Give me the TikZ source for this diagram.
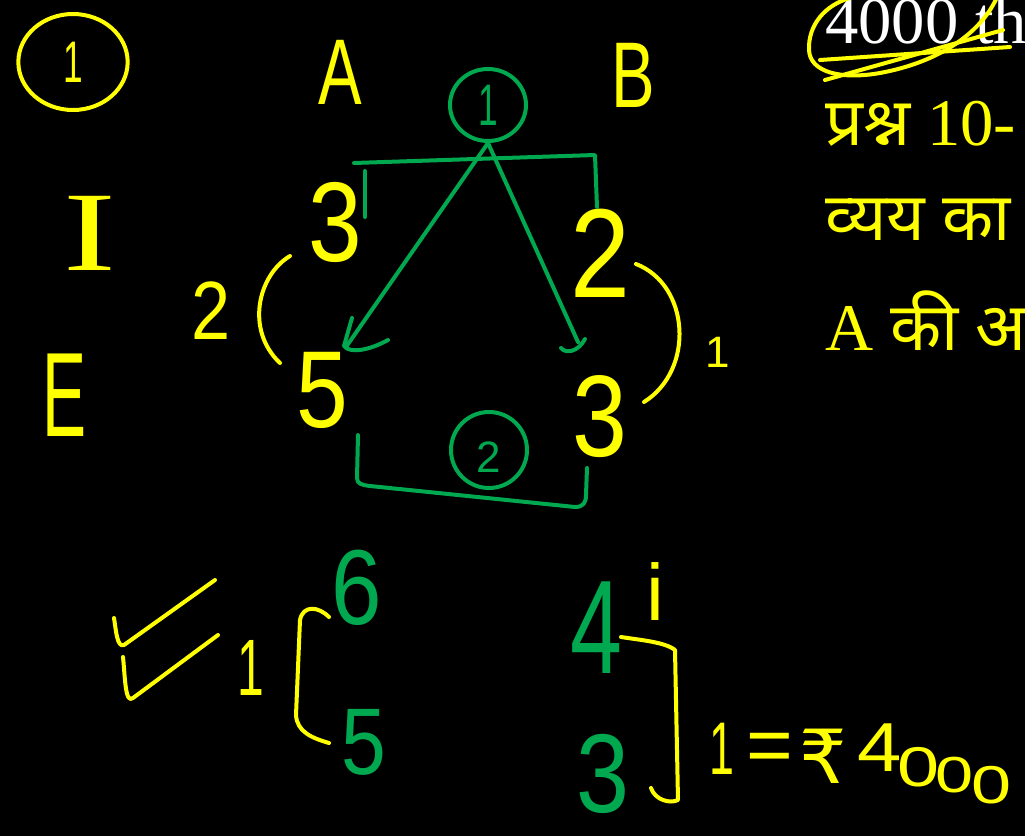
\documentclass[tikz,border=0pt]{standalone}
\usepackage{fontspec}
\setmainfont{Liberation Serif}
\newfontfamily\handfont{Liberation Sans}
\newfontfamily\devfont[Script=Devanagari]{Noto Sans}
\newfontfamily\symfont{DejaVu Sans}
\usetikzlibrary{shapes.geometric}
\definecolor{hy}{RGB}{255,255,0}
\definecolor{hg}{RGB}{0,168,80}
\newcommand\hsz[1]{\handfont\fontsize{#1pt}{#1pt}\selectfont}
\newcommand\ssz[1]{\fontsize{#1pt}{#1pt}\selectfont}
\begin{document}
\begin{tikzpicture}[x=0.75pt,y=-0.75pt,
  pen/.style={line width=3pt,line cap=round,line join=round},
  ypen/.style={pen,draw=hy},
  gpen/.style={pen,draw=hg},
  ytext/.style={inner sep=0pt,outer sep=0pt,text=hy},
  gtext/.style={inner sep=0pt,outer sep=0pt,text=hg},
  printed/.style={inner sep=0pt,anchor=base west,text=hy,font=\ssz{50}}]
\fill[black] (0,0) rectangle (1025,836);
\useasboundingbox (0,0) rectangle (1025,836);
\clip (0,0) rectangle (1025,836);

% printed text (top right)
\node[printed,text=white] (t0) at (825,43) {4000 th};
\node[printed] (t1) at (825,145) {{\devfont प्रश्न} 10-};
\node[printed] (t2) at (825,240) {\devfont व्यय का};
\node[printed] (t3) at (825,350) {A {\devfont की अ}};
\draw[ypen] (997,-3) .. controls (985,25) and (950,60) .. (880,73)
  .. controls (840,80) and (810,72) .. (809,50)
  .. controls (808,25) and (825,5) .. (850,-2);
\draw[ypen] (820,60) -- (1010,47);
\draw[ypen] (825,80) -- (1003,30);

% header row
\node[ellipse,draw=hy,line width=3pt,text=hy,font=\hsz{44},inner sep=0pt,
  minimum width=82pt,minimum height=72pt] (c1) at (73,62) {\scalebox{0.6}[1]{1}};
\node[ytext,font=\hsz{70}] (A) at (340,72) {\scalebox{0.7}[1]{A}};
\node[ytext,font=\hsz{70}] (B) at (633,75) {\scalebox{0.7}[1]{B}};
\node[ellipse,draw=hg,line width=3pt,text=hg,font=\hsz{44},inner sep=0pt,
  minimum width=57pt,minimum height=54pt] (g1) at (488,105) {\scalebox{0.6}[1]{1}};

% row labels
\node[ytext,font=\ssz{85}] (I) at (90,233) {\scalebox{1.4}[1]{I}};
\node[ytext,font=\hsz{90}] (E) at (65,395) {\scalebox{0.55}[1]{E}};

% ratios
\node[ytext,font=\hsz{85}] (a3) at (335,222) {\scalebox{0.85}[1]{3}};
\node[ytext,font=\hsz{95}] (b2) at (600,253) {\scalebox{0.85}[1]{2}};
\node[ytext,font=\hsz{82}] (a5) at (322,390) {\scalebox{0.85}[1]{5}};
\node[ytext,font=\hsz{87}] (b3) at (600,417) {\scalebox{0.85}[1]{3}};
\node[ytext,font=\hsz{62}] (l2) at (211,311) {\scalebox{0.85}[1]{2}};
\node[ytext,font=\hsz{33}] (r1) at (718,352) {1};
\draw[ypen] (290,256) .. controls (258,275) and (245,330) .. (280,363);
\draw[ypen] (636,264) .. controls (690,285) and (695,370) .. (644,402);

% green brackets and arrows
\draw[gpen] (354,163) -- (595,155) -- (597,207);
\draw[gpen] (365,171) -- (365,217);
\coordinate (h1) at (346,347);
\coordinate (h2) at (578,342);
\draw[gpen] (g1.south) -- (h1);
\draw[gpen] (352,318) -- (344,346) .. controls (350,354) and (370,350) .. (388,340);
\draw[gpen] (g1.south) -- (h2);
\draw[gpen] (561,348) .. controls (566,354) and (578,352) .. (585,339);
\draw[gpen] (358,435) -- (357,478) .. controls (357,484) and (362,485) .. (370,486)
  -- (575,507) .. controls (583,507) and (586,503) .. (586,495) -- (587,468);
\node[ellipse,draw=hg,line width=3pt,inner sep=0pt,
  minimum width=57pt,minimum height=57pt] (g2) at (489,450) {};
\node[gtext,font=\hsz{33}] (g2t) at (489,457) {2};

% lower working
\draw[ypen] (114,618) .. controls (116,630) and (117,648) .. (124,645) -- (215,580);
\draw[ypen] (123,657) .. controls (125,675) and (125,705) .. (133,698) -- (218,635);
\node[ytext,font=\hsz{60}] (v1) at (251,668) {\scalebox{0.6}[1]{1}};
\draw[ypen] (329,617) .. controls (318,606) and (303,605) .. (300,620) -- (296,715)
  .. controls (297,732) and (312,738) .. (329,743);
\node[gtext,font=\hsz{80}] (n6) at (357,588) {\scalebox{0.85}[1]{6}};
\node[gtext,font=\hsz{71}] (n5) at (364,742) {\scalebox{0.85}[1]{5}};
\node[gtext,font=\hsz{100}] (n4) at (596,628) {\scalebox{0.7}[1]{4}};
\node[gtext,font=\hsz{84}] (n3) at (603,774) {\scalebox{0.85}[1]{3}};
\node[ytext,font=\hsz{60}] (ii) at (655,592) {i};
\draw[ypen] (621,637) .. controls (640,640) and (665,642) .. (675,650) -- (678,800)
  .. controls (670,804) and (655,800) .. (651,788);

% 1 = rupee 4000 (handwritten, descending)
\node[ytext,font=\hsz{56}] (e1) at (722,749) {\scalebox{0.6}[1]{1}};
\node[ytext,font=\hsz{60}] (e2) at (770,753) {=};
\node[ytext,font=\symfont\ssz{56}] (e3) at (823,756) {₹};
\node[ytext,font=\hsz{52}] (e4) at (880,748) {\scalebox{1.15}[1]{4}};
\node[ytext,font=\hsz{42}] (e5) at (919,767) {\scalebox{1.35}[1]{0}};
\node[ytext,font=\hsz{38}] (e6) at (955,775) {\scalebox{1.35}[1]{0}};
\node[ytext,font=\hsz{40}] (e7) at (992,785) {\scalebox{1.35}[1]{0}};
\end{tikzpicture}
\end{document}
